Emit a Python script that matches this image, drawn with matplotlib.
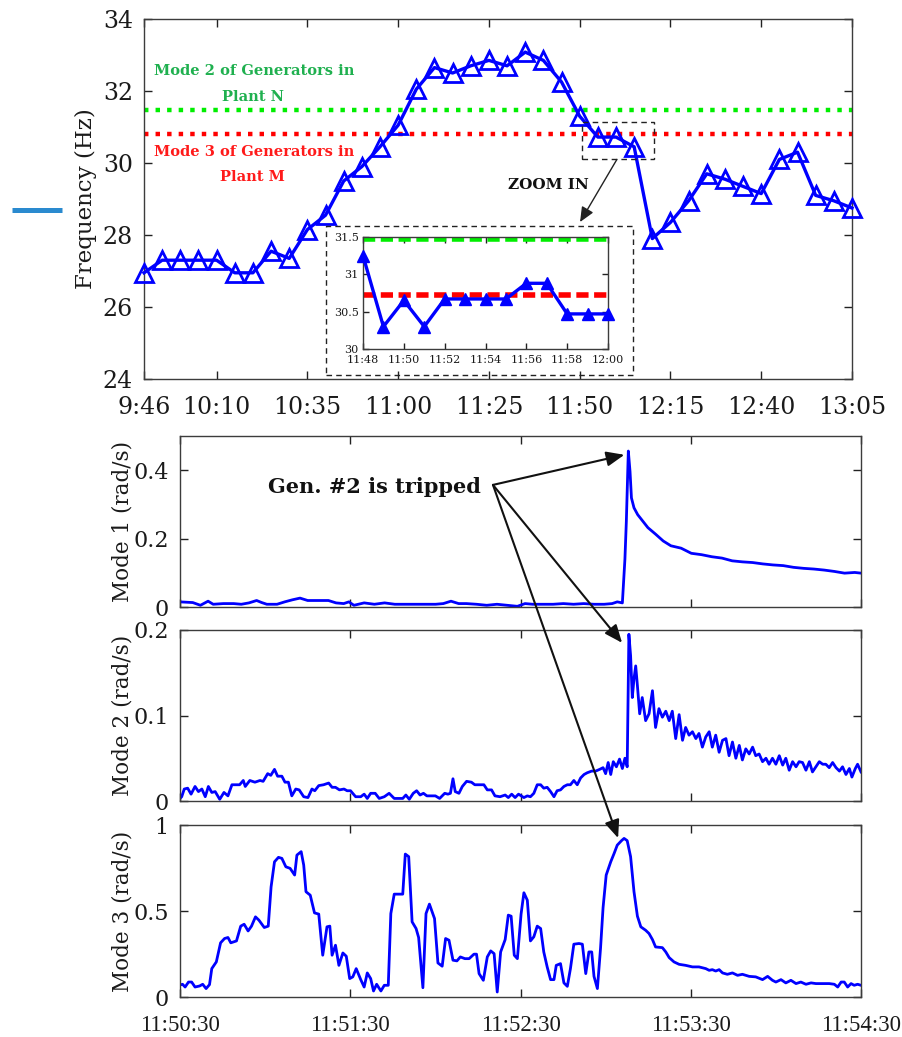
import matplotlib
matplotlib.use('Agg')
import matplotlib.pyplot as plt
from matplotlib.patches import Rectangle, ConnectionPatch
from matplotlib.lines import Line2D

plt.rcParams['font.family'] = ['DejaVu Serif']
plt.rcParams['mathtext.fontset'] = 'dejavuserif'

# ---------------- top panel data (5-minute samples) ----------------
freq_hz = [26.95, 27.3, 27.3, 27.3, 27.3, 26.95, 26.95, 27.55, 27.35, 28.15,
           28.55, 29.5, 29.9, 30.45, 31.05, 32.05, 32.65, 32.5, 32.7, 32.85,
           32.7, 33.08, 32.85, 32.25, 31.3, 30.72, 30.72, 30.45, 27.9, 28.35,
           28.95, 29.7, 29.55, 29.35, 29.15, 30.1, 30.3, 29.1, 28.95, 28.75]
freq_tick_labels = ['9:46', '10:10', '10:35', '11:00', '11:25', '11:50', '12:15', '12:40', '13:05']
freq_tick_index = [0, 4, 9, 14, 19, 24, 29, 34, 39]
mode2_plantN = 31.47
mode3_plantM = 30.8

# inset (1-minute samples, 11:48 .. 12:00)
inset_minutes = [0, 1, 2, 3, 4, 5, 6, 7, 8, 9, 10, 11, 12]
inset_freq = [31.25, 30.3, 30.65, 30.3, 30.67, 30.67, 30.67, 30.67, 30.88, 30.88, 30.47, 30.47, 30.47]
inset_tick_labels = ['11:48', '11:50', '11:52', '11:54', '11:56', '11:58', '12:00']
inset_mode2 = 31.47
inset_mode3 = 30.72

# ---------------- bottom panels (seconds after 11:50:30) ----------------
bottom_tick_labels = ['11:50:30', '11:51:30', '11:52:30', '11:53:30', '11:54:30']

m1_t = [0, 4.5, 7.2, 9.9, 11.7, 15.3, 18.9, 21.6, 24.3, 27, 28.8, 30.6, 34.2, 36.9, 39.6,
        42.3, 45, 48.6, 52.3, 55, 57.7, 59.5, 61.3, 64.9, 68.5, 72.1, 75.7, 79.3, 82.9,
        86.5, 90.1, 92.8, 95.5, 98.2, 100.9, 104.5, 108.1, 111.7, 115.3, 118.9, 121.6,
        124.3, 127.9, 131.5, 135.1, 138.7, 142.3, 145.9, 149.5, 152.3, 154.1, 155.9,
        156.8, 157.3, 158.0, 158.6, 159.1, 160, 161.3, 163.1, 164.9, 167.6, 170.3, 173,
        176.6, 180.2, 183.8, 187.4, 191, 194.6, 198.2, 201.8, 205.4, 209, 212.6, 216.2,
        219.8, 223.4, 227, 230.6, 234.2, 237.8, 240]
m1_v = [0.015, 0.013, 0.005, 0.017, 0.008, 0.01, 0.01, 0.008, 0.012, 0.019, 0.013, 0.008,
        0.008, 0.015, 0.021, 0.026, 0.019, 0.019, 0.019, 0.012, 0.01, 0.015, 0.005, 0.012,
        0.008, 0.012, 0.008, 0.008, 0.008, 0.008, 0.008, 0.01, 0.017, 0.01, 0.01, 0.008,
        0.005, 0.008, 0.005, 0.002, 0.01, 0.008, 0.008, 0.008, 0.01, 0.008, 0.01, 0.008,
        0.008, 0.01, 0.015, 0.012, 0.14, 0.25, 0.456, 0.396, 0.319, 0.29, 0.27, 0.251,
        0.232, 0.213, 0.193, 0.179, 0.172, 0.157, 0.153, 0.147, 0.143, 0.135, 0.132, 0.13,
        0.126, 0.123, 0.121, 0.116, 0.113, 0.111, 0.108, 0.104, 0.099, 0.101, 0.099]

m2_t = [0, 0.6, 1.5, 2.7, 3.9, 5.3, 6.5, 7.7, 8.9, 10, 11.2, 12.4, 14, 15.5, 16.9, 18.3,
        19.9, 21, 22.3, 23, 24.6, 26.4, 28.2, 29.3, 30.9, 32, 33.3, 34.4, 35.9, 37, 38.2,
        39.4, 40.8, 42, 43.6, 45.1, 46.5, 47.5, 48.9, 50.6, 52.4, 53.6, 54.8, 56.2, 57.8,
        58.9, 60.1, 61.9, 63.7, 64.9, 66, 67.2, 68.8, 70.2, 72, 73.7, 75.5, 77, 78.5,
        79.6, 80.8, 82.2, 83.4, 84.6, 85.8, 87, 88.5, 90, 91.5, 93.3, 94.4, 95.3, 96.2,
        97, 98.3, 99.5, 101, 102.7, 103.9, 105.7, 107.1, 108.3, 109.8, 111, 112.8, 114.6,
        115.7, 116.9, 118.1, 119.3, 121.2, 122.4, 123.5, 124.7, 125.9, 127.1, 128.2,
        129.4, 130.6, 131.8, 132.9, 134.1, 135.3, 136.5, 137.6, 138.8, 140, 141.2, 142.4,
        143.5, 145.1, 146.5, 147.9, 149.1, 150, 150.9, 151.8, 152.7, 153.8, 154.9, 155.9,
        156.8, 157.6, 158.2, 158.8, 159.4, 160, 160.6, 161.2, 162, 162.9, 164.1, 165.3,
        166.5, 167.6, 168.8, 170, 171.2, 172.4, 173.5, 174.7, 175.9, 177.1, 178.2, 179.4,
        180.6, 181.8, 182.9, 184.1, 185.3, 186.5, 187.6, 188.8, 190, 191.2, 192.4, 193.5,
        194.7, 195.9, 197.1, 198.2, 199.4, 200.6, 201.8, 202.9, 204.1, 205.3, 206.5,
        207.6, 208.8, 210, 211.2, 212.4, 213.5, 214.7, 215.9, 217.1, 218.2, 219.4, 220.6,
        221.8, 222.9, 224.1, 225.3, 226.5, 227.6, 228.8, 230, 231.2, 232.4, 233.5, 234.7,
        235.9, 236.8, 238, 238.8, 240]
m2_v = [0.003, 0.005, 0.014, 0.015, 0.008, 0.017, 0.011, 0.014, 0.005, 0.017, 0.010,
        0.011, 0.002, 0.010, 0.006, 0.019, 0.019, 0.019, 0.024, 0.017, 0.024, 0.022, 0.024,
        0.023, 0.032, 0.030, 0.037, 0.029, 0.029, 0.022, 0.022, 0.006, 0.014, 0.013, 0.005,
        0.004, 0.014, 0.012, 0.018, 0.019, 0.021, 0.016, 0.016, 0.013, 0.014, 0.012, 0.012,
        0.005, 0.005, 0.008, 0.003, 0.009, 0.009, 0.003, 0.005, 0.009, 0.003, 0.003, 0.003,
        0.007, 0.002, 0.009, 0.012, 0.007, 0.009, 0.006, 0.006, 0.006, 0.003, 0.009, 0.008,
        0.009, 0.026, 0.011, 0.009, 0.017, 0.023, 0.022, 0.019, 0.019, 0.019, 0.013, 0.013,
        0.006, 0.005, 0.007, 0.004, 0.008, 0.004, 0.008, 0.004, 0.006, 0.005, 0.009, 0.019,
        0.019, 0.015, 0.016, 0.011, 0.005, 0.012, 0.013, 0.017, 0.019, 0.019, 0.024, 0.019,
        0.027, 0.031, 0.033, 0.035, 0.035, 0.037, 0.039, 0.032, 0.045, 0.031, 0.046, 0.040,
        0.049, 0.038, 0.050, 0.040, 0.195, 0.170, 0.121, 0.143, 0.158, 0.135, 0.102, 0.121,
        0.094, 0.102, 0.129, 0.086, 0.108, 0.098, 0.105, 0.094, 0.105, 0.073, 0.101, 0.071,
        0.086, 0.077, 0.081, 0.073, 0.079, 0.063, 0.075, 0.081, 0.063, 0.077, 0.057, 0.071,
        0.073, 0.053, 0.069, 0.050, 0.065, 0.048, 0.061, 0.055, 0.063, 0.053, 0.055, 0.046,
        0.050, 0.043, 0.050, 0.043, 0.053, 0.042, 0.050, 0.036, 0.046, 0.040, 0.046, 0.045,
        0.036, 0.046, 0.034, 0.040, 0.046, 0.043, 0.043, 0.039, 0.045, 0.039, 0.035, 0.040,
        0.031, 0.038, 0.028, 0.038, 0.043, 0.034]

m3_t = [0, 0.9, 1.8, 3, 4.1, 5.3, 6.9, 8, 9.2, 10.4, 11.2, 12.8, 14.3, 15.7, 16.9, 17.9,
        19.9, 21.4, 22.6, 24, 25.2, 26.6, 27.8, 29.7, 31.1, 32.1, 33.3, 34.7, 35.9, 37.3,
        38.8, 40.4, 41.2, 42.7, 43.6, 44.4, 45.9, 47.4, 48.9, 50.3, 51.8, 52.8, 53.6, 54.8,
        56, 57.4, 58.6, 59.8, 60.9, 62.1, 63.7, 64.9, 66, 67.2, 68.2, 69.3, 70.8, 72, 73.4,
        74.3, 75.5, 77, 78.5, 79.4, 80.6, 81.8, 83.2, 84.1, 85.6, 86.7, 87.9, 89.7, 90.9,
        92.4, 93.6, 94.8, 96.2, 97.6, 98.8, 100.4, 101.9, 103.6, 104.5, 105.4, 106.9,
        108.3, 109.5, 110.7, 111.8, 113, 114.6, 115.7, 116.7, 117.8, 118.9, 120.2, 121.2,
        122.4, 123.5, 124.7, 125.9, 127.1, 128.2, 129.4, 130.6, 131.8, 132.6, 134.1,
        135.3, 136.5, 137.6, 138.8, 140.6, 141.8, 143, 144.1, 145.1, 145.9, 147.1, 148.2,
        149.1, 150.2, 151.8, 153, 154.1, 155.6, 156.5, 157.6, 158.8, 160, 161.2, 162.4,
        164.1, 165.3, 166.5, 167.6, 170, 171.2, 172.4, 174.1, 175.9, 178.2, 180.6, 182.9,
        185.3, 186.5, 187.6, 188.8, 190, 191.2, 192.9, 194.7, 196.5, 198.2, 200.6, 202.9,
        205.3, 207.1, 208.8, 210, 211.8, 213.5, 215.3, 217.1, 218.8, 220.6, 222.4, 224.1,
        226.5, 228.8, 230.6, 231.8, 233, 234.1, 235.3, 236.5, 237.6, 238.8, 240]
m3_v = [0.07, 0.074, 0.058, 0.087, 0.087, 0.058, 0.064, 0.074, 0.049, 0.072, 0.165,
        0.204, 0.315, 0.34, 0.346, 0.315, 0.326, 0.412, 0.423, 0.384, 0.412, 0.466, 0.447,
        0.404, 0.412, 0.64, 0.786, 0.812, 0.806, 0.757, 0.748, 0.709, 0.825, 0.845, 0.767,
        0.612, 0.592, 0.489, 0.482, 0.243, 0.408, 0.412, 0.243, 0.301, 0.184, 0.256, 0.237,
        0.107, 0.117, 0.165, 0.101, 0.058, 0.14, 0.107, 0.035, 0.074, 0.035, 0.068, 0.068,
        0.485, 0.598, 0.598, 0.598, 0.831, 0.816, 0.437, 0.398, 0.346, 0.054, 0.485, 0.54,
        0.456, 0.198, 0.179, 0.34, 0.33, 0.214, 0.21, 0.233, 0.223, 0.223, 0.249, 0.249,
        0.136, 0.097, 0.233, 0.268, 0.252, 0.029, 0.262, 0.334, 0.476, 0.47, 0.243, 0.223,
        0.482, 0.606, 0.563, 0.326, 0.35, 0.412, 0.398, 0.262, 0.175, 0.101, 0.101, 0.184,
        0.194, 0.082, 0.062, 0.165, 0.307, 0.311, 0.307, 0.136, 0.262, 0.262, 0.12, 0.049,
        0.282, 0.52, 0.709, 0.786, 0.835, 0.883, 0.909, 0.922, 0.909, 0.816, 0.612, 0.47,
        0.408, 0.388, 0.369, 0.334, 0.291, 0.287, 0.262, 0.229, 0.204, 0.19, 0.184, 0.175,
        0.175, 0.165, 0.155, 0.159, 0.151, 0.159, 0.14, 0.132, 0.14, 0.126, 0.132, 0.12,
        0.117, 0.101, 0.12, 0.097, 0.087, 0.101, 0.082, 0.097, 0.078, 0.087, 0.074, 0.082,
        0.078, 0.078, 0.078, 0.074, 0.058, 0.087, 0.087, 0.058, 0.078, 0.068, 0.074, 0.068]

BLUE = '#0000ff'
SPINE = '#3c3c3c'

fig = plt.figure(figsize=(9.02, 10.37), dpi=100)


def style_axes(ax, labelsize, xpad=8, ypad=8, length=6):
    for s in ax.spines.values():
        s.set_color(SPINE)
        s.set_linewidth(1.0)
    ax.tick_params(direction='in', top=True, right=True, length=length, width=1.0,
                   color='#222222', labelsize=labelsize, labelcolor='#1a1a1a')
    ax.tick_params(axis='x', pad=xpad)
    ax.tick_params(axis='y', pad=ypad)


# ---------------- top panel ----------------
ax0 = fig.add_axes([144 / 902, 1 - 379 / 1037, 708 / 902, 360 / 1037])
idx = list(range(len(freq_hz)))
ax0.axhline(mode2_plantN, color='#00ee00', lw=3.2, ls=(0, (1.0, 1.6)))
ax0.axhline(mode3_plantM, color='#ff0000', lw=3.2, ls=(0, (1.0, 1.6)))
ax0.plot(idx, freq_hz, color=BLUE, lw=2.4, marker='^', markersize=13, markerfacecolor='none',
         markeredgecolor=BLUE, markeredgewidth=2.0, clip_on=False, zorder=5)
ax0.set_xlim(0, len(freq_hz) - 1)
ax0.set_ylim(24, 34)
ax0.set_yticks([24, 26, 28, 30, 32, 34])
ax0.set_xticks(freq_tick_index)
ax0.set_xticklabels(freq_tick_labels)
style_axes(ax0, 17, xpad=12, ypad=8)
ax0.set_ylabel('Frequency (Hz)', fontsize=16.5, color='#1a1a1a')
ax0.yaxis.set_label_coords(-0.066, 0.5)

ax0.text(6.06, 32.56, 'Mode 2 of Generators in', color='#1fb04f', fontsize=10.5,
         fontweight='bold', ha='center', va='center')
ax0.text(6.0, 31.82, 'Plant N', color='#1fb04f', fontsize=10.5, fontweight='bold',
         ha='center', va='center')
ax0.text(6.06, 30.31, 'Mode 3 of Generators in', color='#ff1a1a', fontsize=10.5,
         fontweight='bold', ha='center', va='center')
ax0.text(6.0, 29.6, 'Plant M', color='#ff1a1a', fontsize=10.5, fontweight='bold',
         ha='center', va='center')
ax0.text(22.3, 29.39, 'ZOOM IN', color='#111111', fontsize=11, fontweight='bold',
         ha='center', va='center')

# small dashed box around the zoomed samples
ax0.add_patch(Rectangle((24.15, 30.11), 3.95, 1.03, fill=False, ls=(0, (4, 3)), lw=1.0,
                        edgecolor='#222222', zorder=6))
ax0.annotate('', xy=(24.02, 28.36), xytext=(26.05, 30.1),
             arrowprops=dict(arrowstyle='-|>,head_length=0.5,head_width=0.22', color='#222222',
                             lw=1.0, mutation_scale=18, shrinkA=0, shrinkB=0))

# outer dashed frame of the inset
fig.add_artist(Rectangle((326 / 902, 1 - 375 / 1037), 307 / 902, 149 / 1037, fill=False,
                         ls=(0, (4, 3)), lw=1.0, edgecolor='#222222',
                         transform=fig.transFigure, zorder=3))

# ---------------- inset ----------------
axi = fig.add_axes([363 / 902, 1 - 349 / 1037, 245 / 902, 112 / 1037])
axi.axhline(inset_mode2, color='#00ee00', lw=4, ls=(0, (2.2, 1.0)))
axi.axhline(inset_mode3, color='#ff0000', lw=4, ls=(0, (2.2, 1.0)))
axi.plot(inset_minutes, inset_freq, color=BLUE, lw=2.4, marker='^', markersize=8,
         markerfacecolor=BLUE, markeredgecolor=BLUE, clip_on=False, zorder=5)
axi.set_xlim(0, 12)
axi.set_ylim(30, 31.5)
axi.set_yticks([30, 30.5, 31, 31.5])
axi.set_yticklabels(['30', '30.5', '31', '31.5'])
axi.set_xticks([0, 2, 4, 6, 8, 10, 12])
axi.set_xticklabels(inset_tick_labels)
style_axes(axi, 8, xpad=4, ypad=3, length=4)

# ---------------- bottom panels ----------------
left_b = 180 / 902
width_b = 681 / 902
ax1 = fig.add_axes([left_b, 1 - 607 / 1037, width_b, 171 / 1037])
ax2 = fig.add_axes([left_b, 1 - 801 / 1037, width_b, 171 / 1037])
ax3 = fig.add_axes([left_b, 1 - 997 / 1037, width_b, 172 / 1037])

ax1.plot(m1_t, m1_v, color=BLUE, lw=2.0)
ax2.plot(m2_t, m2_v, color=BLUE, lw=2.0)
ax3.plot(m3_t, m3_v, color=BLUE, lw=2.0)

ax1.set_ylim(0, 0.5)
ax1.set_yticks([0, 0.2, 0.4])
ax1.set_yticklabels(['0', '0.2', '0.4'])
ax2.set_ylim(0, 0.2)
ax2.set_yticks([0, 0.1, 0.2])
ax2.set_yticklabels(['0', '0.1', '0.2'])
ax3.set_ylim(0, 1)
ax3.set_yticks([0, 0.5, 1])
ax3.set_yticklabels(['0', '0.5', '1'])

for ax, lab in zip([ax1, ax2, ax3], ['Mode 1 (rad/s)', 'Mode 2 (rad/s)', 'Mode 3 (rad/s)']):
    ax.set_xlim(0, 240)
    ax.set_xticks([0, 60, 120, 180, 240])
    style_axes(ax, 16, xpad=13, ypad=8)
    ax.set_ylabel(lab, fontsize=15.5, color='#1a1a1a')
    ax.yaxis.set_label_coords(-0.068, 0.5)
ax1.set_xticklabels([])
ax2.set_xticklabels([])
ax3.set_xticklabels(bottom_tick_labels, family=['Liberation Serif', 'DejaVu Serif'],
                    fontsize=16.5)

ax1.text(68.4, 0.352, 'Gen. #2 is tripped', fontsize=15, fontweight='bold',
         ha='center', va='center', color='#111111')

tail = (110.3, 0.357)
for axb, head in [(ax1, (156.6, 0.445)), (ax2, (155.8, 0.185)), (ax3, (154.4, 0.924))]:
    cp = ConnectionPatch(xyA=tail, coordsA=ax1.transData, xyB=head, coordsB=axb.transData,
                         arrowstyle='-|>,head_length=0.6,head_width=0.25', color='#111111',
                         lw=1.5, mutation_scale=18, shrinkA=0, shrinkB=0, zorder=10)
    fig.add_artist(cp)

# short blue stroke at the left margin
fig.add_artist(Line2D([12 / 902, 62 / 902], [1 - 210 / 1037, 1 - 210 / 1037],
                      transform=fig.transFigure, color='#2a8acf', lw=3.6,
                      solid_capstyle='butt'))

fig.savefig('out.png', dpi=100)
